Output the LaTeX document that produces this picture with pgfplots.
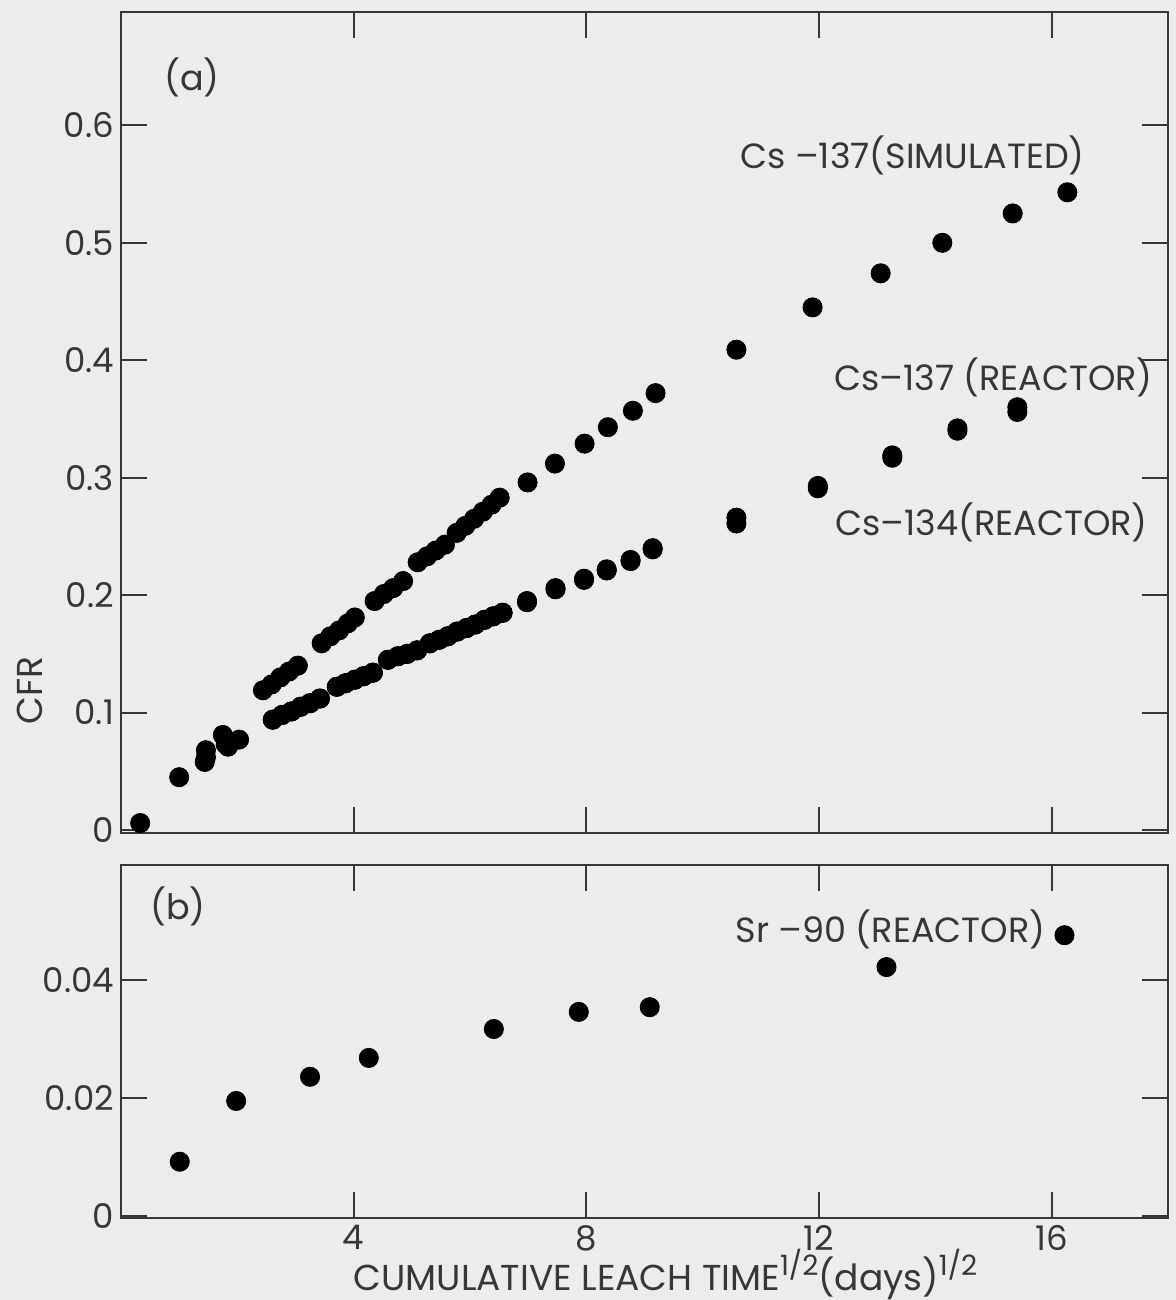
\documentclass[border=0pt]{standalone}
\usepackage{pgfplots}
\pgfplotsset{compat=1.18}
\usepackage{fontspec}
\setmainfont{Poppins}
\definecolor{paper}{RGB}{236,236,234}
\definecolor{ink}{RGB}{55,55,55}
\newcommand{\half}{\raisebox{0.75ex}{\fontsize{14}{15}\selectfont 1/2}}

\pgfplotsset{
  panel/.style={
    scale only axis, width=523.5pt,
    xmin=0, xmax=18, xtick={4,8,12,16},
    tick align=inside, tick pos=both,
    major tick length=13pt,
    scaled y ticks=false, scaled x ticks=false,
    axis line style={ink, line width=1pt},
    tick style={ink, line width=1pt},
    ticklabel style={ink, font=\fontsize{17}{20}\selectfont},
    label style={ink, font=\fontsize{18}{20}\selectfont},
    /pgf/number format/assume math mode=true,
  },
  dots/.style={only marks, mark=*, mark size=4.8pt,
    mark options={fill=black, draw=black}},
}
\tikzset{lab/.style={ink, font=\fontsize{17.5}{20}\selectfont, inner sep=0pt}}

\begin{document}
\begin{tikzpicture}
\fill[paper] (-60.5pt,6pt) rectangle (527.5pt,-644pt);
\path[use as bounding box] (-60.5pt,6pt) rectangle (527.5pt,-644pt);

% (a) caesium
\begin{axis}[panel, at={(0pt,0pt)}, anchor=north west,
  height=410.5pt, ymin=-0.0025, ymax=0.6965,
  ytick={0,0.1,0.2,0.3,0.4,0.5,0.6},
  yticklabels={0,0.1,0.2,0.3,0.4,0.5,0.6},
  xticklabels={},
  ylabel={CFR},
  ylabel style={at={(rel axis cs:-0.087,0.174)}, anchor=center},
]
% Cs-137 simulated
\addplot[dots] coordinates {
  (0.33,0.006)(1.00,0.045)(1.46,0.068)(1.75,0.081)
  (2.44,0.119)(2.59,0.124)(2.74,0.130)(2.89,0.135)(3.04,0.140)
  (3.45,0.159)(3.60,0.165)(3.75,0.170)(3.90,0.176)(4.02,0.181)
  (4.36,0.195)(4.52,0.201)(4.68,0.206)(4.85,0.212)
  (5.10,0.228)(5.26,0.233)(5.41,0.238)(5.57,0.243)
  (5.77,0.253)(5.92,0.259)(6.07,0.265)(6.22,0.271)(6.37,0.277)(6.51,0.283)
  (6.99,0.296)(7.46,0.312)(7.97,0.329)(8.37,0.343)(8.80,0.357)(9.19,0.372)
  (10.58,0.409)(11.89,0.445)(13.06,0.474)(14.12,0.500)(15.33,0.525)(16.27,0.543)};
% Cs-137 reactor
\addplot[dots] coordinates {
  (1.44,0.058)(1.84,0.071)(2.03,0.077)
  (2.61,0.094)(2.77,0.098)(2.93,0.101)(3.09,0.105)(3.25,0.108)(3.42,0.112)
  (3.71,0.122)(3.86,0.125)(4.02,0.128)(4.17,0.131)(4.33,0.134)
  (4.59,0.145)(4.76,0.148)(4.92,0.150)(5.09,0.153)
  (5.31,0.159)(5.47,0.162)(5.62,0.165)(5.78,0.169)(5.94,0.172)
  (6.09,0.175)(6.25,0.179)(6.40,0.182)(6.56,0.185)
  (6.98,0.194)(7.47,0.205)(7.96,0.213)(8.35,0.221)(8.76,0.229)(9.14,0.239)
  (10.58,0.266)(11.98,0.291)(13.26,0.317)(14.38,0.340)(15.41,0.360)};
% Cs-134 reactor
\addplot[dots] coordinates {
  (1.46,0.062)(1.80,0.073)
  (2.61,0.094)(2.77,0.098)(2.93,0.101)(3.09,0.105)(3.25,0.108)(3.42,0.112)
  (3.71,0.122)(3.86,0.125)(4.02,0.128)(4.17,0.131)(4.33,0.134)
  (4.59,0.145)(4.76,0.148)(4.92,0.150)(5.09,0.153)
  (5.31,0.159)(5.47,0.162)(5.62,0.165)(5.78,0.169)(5.94,0.172)
  (6.09,0.175)(6.25,0.179)(6.40,0.182)(6.56,0.185)
  (6.98,0.195)(7.47,0.206)(7.96,0.214)(8.35,0.222)(8.76,0.230)(9.14,0.240)
  (10.58,0.261)(11.98,0.293)(13.26,0.319)(14.38,0.342)(15.41,0.356)};
\node[lab] at (axis cs:1.22,0.641) {(a)};
\node[lab] at (axis cs:13.61,0.5745) {Cs –137(SIMULATED)};
\node[lab] at (axis cs:15.0,0.3855) {Cs–137 (REACTOR)};
\node[lab] at (axis cs:14.97,0.262) {Cs–134(REACTOR)};
\end{axis}

% (b) strontium
\begin{axis}[panel, at={(0pt,-426.5pt)}, anchor=north west,
  height=176.5pt, ymin=-0.00034, ymax=0.0595,
  ytick={0,0.02,0.04},
  yticklabels={0,0.02,0.04},
  xticklabels={4,8,12,16},
  xticklabel pos=lower,
  xlabel={CUMULATIVE LEACH TIME\half(days)\half},
  xlabel style={at={(rel axis cs:0.52,-0.204)}, anchor=base},
]
\addplot[dots] coordinates {
  (1.01,0.0092)(1.98,0.0195)(3.25,0.0236)(4.26,0.0268)
  (6.41,0.0317)(7.87,0.0346)(9.09,0.0354)(13.16,0.0422)(16.22,0.0476)};
\node[lab] at (axis cs:0.98,0.0525) {(b)};
\node[lab] at (axis cs:13.23,0.0485) {Sr –90 (REACTOR)};
\end{axis}
\end{tikzpicture}
\end{document}
